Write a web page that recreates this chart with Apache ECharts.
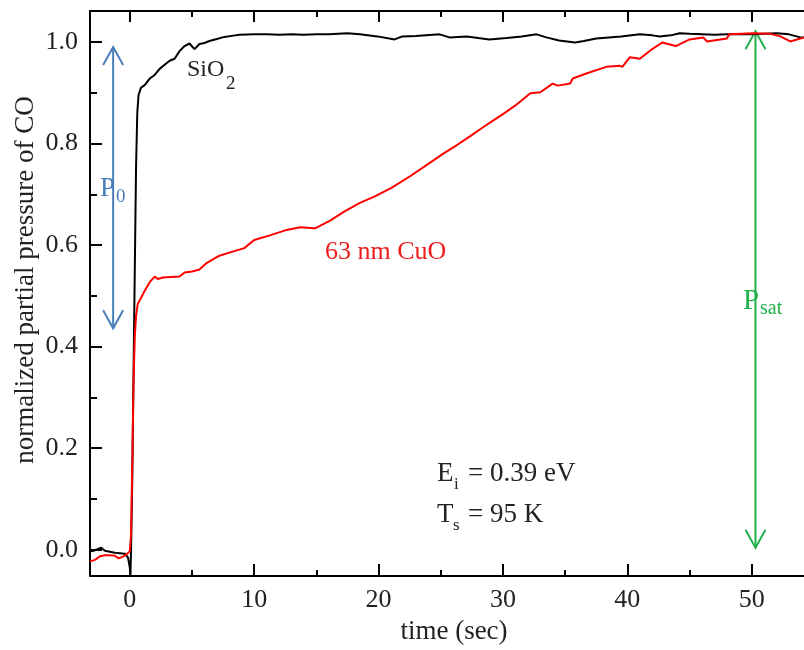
<!DOCTYPE html>
<html><head><meta charset="utf-8">
<script src="https://cdn.jsdelivr.net/npm/echarts@6/dist/echarts.min.js"></script>
<style>html,body{margin:0;padding:0;background:#fff}#c{width:804px;height:650px}</style>
</head><body><div id="c"></div>
<script>
// ---- data ----
const timeSiO2 = [-3.2,-2.9,-2.6,-2.3,-2.0,-1.6,-1.2,-0.8,-0.4,-0.15,0.0,0.05,0.1,0.2,0.3,0.4,0.5,0.6,0.7,0.9,1.2,1.6,2.0,2.4,2.8,3.2,3.6,4.0,4.4,4.8,5.2,5.6,6.0,6.4,7.0,7.6,8.2,8.8,10,11,12,13,14,15,16,17.5,18.5,19.9,21.3,21.9,23,24.9,25.7,27.1,28.9,30.3,31.5,32.7,33.5,34.5,35.8,36.5,37.5,38.5,39.5,41,42,42.6,43.5,44.2,45,46,47,48,49,50,51,52,53,53.9,54.2];
const pSiO2 = [-0.003,-0.002,0.001,0.004,-0.002,-0.004,-0.006,-0.007,-0.008,-0.015,-0.035,-0.05,0.0,0.14,0.35,0.55,0.75,0.86,0.895,0.91,0.915,0.928,0.935,0.947,0.955,0.963,0.967,0.982,0.992,0.997,0.986,0.996,0.998,1.002,1.006,1.01,1.012,1.014,1.015,1.015,1.014,1.015,1.014,1.015,1.015,1.017,1.015,1.011,1.005,1.011,1.012,1.015,1.009,1.011,1.005,1.008,1.011,1.015,1.009,1.003,0.999,1.002,1.007,1.009,1.011,1.015,1.013,1.011,1.013,1.017,1.016,1.015,1.014,1.015,1.015,1.015,1.016,1.017,1.015,1.009,1.009];
const timeCuO = [-3.2,-2.8,-2.4,-2.0,-1.6,-1.2,-0.9,-0.6,-0.3,0.0,0.1,0.2,0.3,0.4,0.5,0.64,0.94,1.2,1.6,2.0,2.25,2.65,3.3,4.0,4.4,5.0,5.6,6.2,7.2,8.4,9.2,10.0,11.25,12.5,13.7,14.9,16.1,17.3,18.5,19.7,21,22.5,24,25.2,26.3,27.4,28.4,29.2,30.0,31,32.2,33.0,34.0,34.4,35.4,35.6,36.7,38.3,39.4,39.6,40.2,41.0,42.0,42.8,43.9,45.0,46.1,46.4,48.0,48.2,50.1,51.5,52.3,53.1,54.2];
const pCuO = [-0.023,-0.02,-0.013,-0.011,-0.011,-0.012,-0.017,-0.014,-0.01,-0.003,0.03,0.17,0.33,0.42,0.46,0.484,0.498,0.51,0.527,0.538,0.533,0.536,0.537,0.538,0.546,0.548,0.552,0.565,0.579,0.588,0.594,0.61,0.619,0.629,0.635,0.633,0.648,0.667,0.683,0.696,0.712,0.735,0.76,0.78,0.797,0.815,0.832,0.845,0.858,0.875,0.899,0.901,0.918,0.914,0.918,0.928,0.938,0.951,0.953,0.951,0.97,0.967,0.986,0.999,0.992,1.005,1.009,1.001,1.007,1.015,1.017,1.016,1.011,1.001,1.009];
const xMajorTicks = [0,10,20,30,40,50];
const xMinorTicks = [5,15,25,35,45];
const yMajorTicks = [0,0.2,0.4,0.6,0.8,1.0];
const yMinorTicks = [0.1,0.3,0.5,0.7,0.9];
const arrowTime = [-1.34, 50.3];
const arrowTop = [0.99, 1.021];
const arrowBottom = [0.436, 0.004];
const arrowColors = ['#4a7ebb', '#21b04b'];

const FONT = '"Liberation Serif", "Times New Roman", serif';
const XMIN = -3.2, XMAX = 54.2, YMIN = -0.052, YMAX = 1.061;
const zip = (a, b) => a.map((v, i) => [v, b[i]]);

function xAx(pos, ticks, len, showLine, labels) {
  return {
    type: 'value', position: pos, min: XMIN, max: XMAX, gridIndex: 0,
    axisLine: { show: showLine, onZero: false, lineStyle: { color: '#000', width: 2 } },
    axisTick: { show: true, inside: true, length: len, customValues: ticks, lineStyle: { color: '#000', width: 2 } },
    axisLabel: labels ? { show: true, customValues: labels, margin: 11, fontSize: 26, fontFamily: FONT, color: '#222' } : { show: false },
    splitLine: { show: false }
  };
}
function yAx(ticks, len, showLine, labels) {
  return {
    type: 'value', position: 'left', min: YMIN, max: YMAX, gridIndex: 0,
    axisLine: { show: showLine, onZero: false, lineStyle: { color: '#000', width: 2 } },
    axisTick: { show: true, inside: true, length: len, customValues: ticks, lineStyle: { color: '#000', width: 2 } },
    axisLabel: labels ? { show: true, customValues: labels, margin: 12, fontSize: 26, fontFamily: FONT, color: '#222', formatter: v => v.toFixed(1) } : { show: false },
    splitLine: { show: false }
  };
}

function txt(text, x, baseline, size, color, extra) {
  return Object.assign({
    type: 'text', x: x, y: baseline - 0.305 * size, silent: true,
    style: { text: text, fill: color, font: size + 'px ' + FONT, textAlign: 'left', textVerticalAlign: 'middle', align: 'left', verticalAlign: 'middle' }
  }, extra || {});
}

const xNamed = xAx('bottom', xMajorTicks, 12, true, xMajorTicks);
Object.assign(xNamed, {
  name: 'time (sec)', nameLocation: 'middle', nameGap: 30,
  nameTextStyle: { fontSize: 27, fontFamily: FONT, color: '#222', padding: [0, 0, 0, 14] }
});

const chart = echarts.init(document.getElementById('c'), null, { renderer: 'canvas' });
chart.setOption({
  backgroundColor: '#fff',
  animation: false,
  grid: { left: 90, right: 0, top: 11, bottom: 62, containLabel: false },
  xAxis: [
    xNamed,
    xAx('bottom', xMinorTicks, 6, false, null),
    xAx('top', xMajorTicks, 11, true, null),
    xAx('top', xMinorTicks, 6, false, null)
  ],
  yAxis: [
    yAx(yMajorTicks, 12, true, yMajorTicks),
    yAx(yMinorTicks, 7, false, null)
  ],
  series: [
    { name: 'SiO2', type: 'line', xAxisIndex: 0, yAxisIndex: 0, data: zip(timeSiO2, pSiO2), showSymbol: false, symbol: 'none', lineStyle: { color: '#000', width: 2 }, itemStyle: { color: '#000' } },
    { name: '63 nm CuO', type: 'line', xAxisIndex: 0, yAxisIndex: 0, data: zip(timeCuO, pCuO), showSymbol: false, symbol: 'none', lineStyle: { color: '#ff0000', width: 2 }, itemStyle: { color: '#ff0000' } },
    {
      type: 'custom', xAxisIndex: 0, yAxisIndex: 0, clip: false,
      data: arrowTime.map((t, i) => [t, arrowTop[i], arrowBottom[i]]),
      renderItem: function (params, api) {
        const c = arrowColors[params.dataIndex];
        const p1 = api.coord([api.value(0), api.value(1)]);
        const p2 = api.coord([api.value(0), api.value(2)]);
        const hw = 10, hl = 18;
        const st = { stroke: c, lineWidth: 2, fill: null };
        return { type: 'group', children: [
          { type: 'line', shape: { x1: p1[0], y1: p1[1], x2: p2[0], y2: p2[1] }, style: st },
          { type: 'polyline', shape: { points: [[p1[0] - hw, p1[1] + hl], [p1[0], p1[1]], [p1[0] + hw, p1[1] + hl]] }, style: st },
          { type: 'polyline', shape: { points: [[p2[0] - hw, p2[1] - hl], [p2[0], p2[1]], [p2[0] + hw, p2[1] - hl]] }, style: st }
        ]};
      }
    }
  ],
  graphic: [
    txt('normalized partial pressure of CO', 26, 280 + 0.305 * 27, 27, '#222', { rotation: Math.PI / 2, x: 26, y: 280,
      style: { text: 'normalized partial pressure of CO', fill: '#222', font: '27px ' + FONT, textAlign: 'center', textVerticalAlign: 'middle', align: 'center', verticalAlign: 'middle' } }),
    txt('SiO', 187, 77, 24, '#222'),
    txt('2', 226, 90, 19, '#222'),
    txt('63 nm CuO', 325, 260, 26, '#ee1c1c'),
    txt('P', 100, 197, 27, '#4a7ebb'),
    txt('0', 116, 203, 19, '#4a7ebb'),
    txt('P', 743, 310, 29, '#21b04b'),
    txt('sat', 760, 315, 20, '#21b04b'),
    txt('E', 437, 482, 27, '#222'),
    txt('i', 454, 490, 17, '#222'),
    txt('= 0.39 eV', 468, 482, 27, '#222'),
    txt('T', 437, 523, 27, '#222'),
    txt('s', 453, 531, 17, '#222'),
    txt('= 95 K', 468, 523, 27, '#222')
  ]
});
</script>
</body></html>
